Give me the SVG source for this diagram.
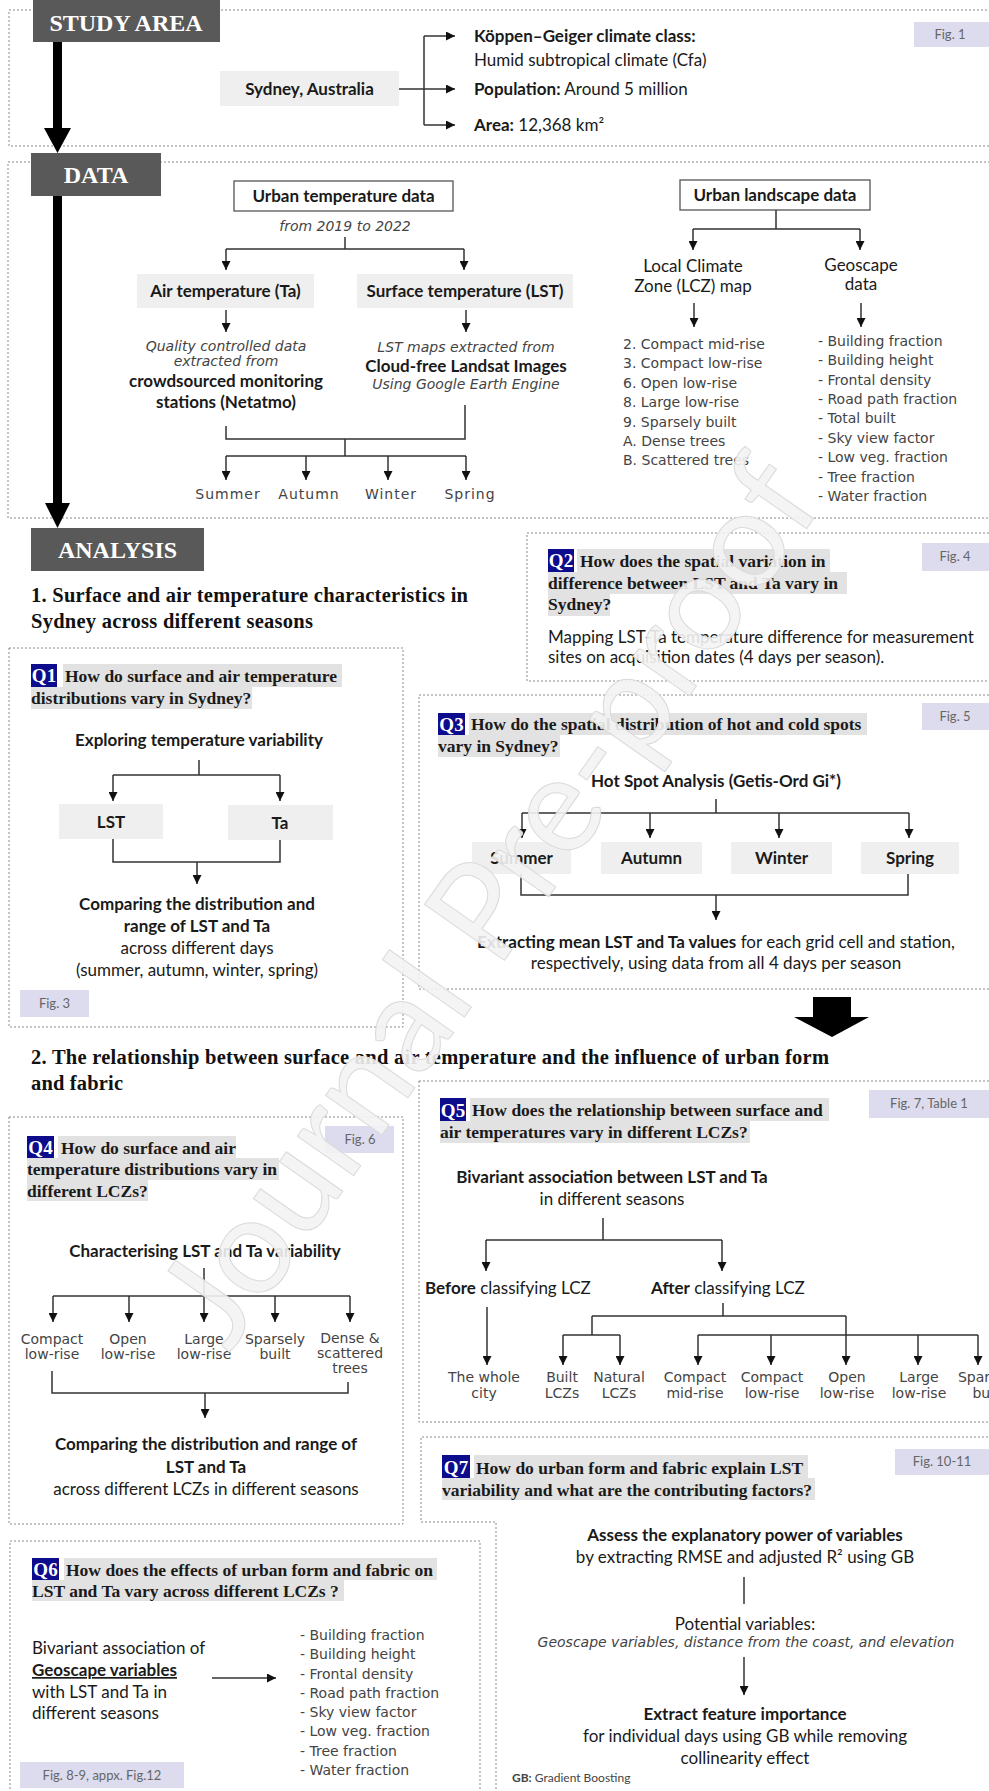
<svg xmlns="http://www.w3.org/2000/svg" width="989" height="1791" viewBox="0 0 989 1791">
<defs>
<marker id="ah" viewBox="0 0 10 10" refX="10" refY="5" markerWidth="10" markerHeight="9" markerUnits="userSpaceOnUse" orient="auto"><path d="M0,0 L10,5 L0,10 z" fill="#111"/></marker>
<style>
.box{fill:none;stroke:#8a8a8a;stroke-width:1;stroke-dasharray:2 2}
.sec{fill:#595959}
.sect{font-family:"Liberation Serif",serif;font-weight:bold;font-size:24px;fill:#fff;text-anchor:middle}
.h{font-family:"Liberation Serif",serif;font-weight:bold;font-size:20.5px;fill:#111}
.q{font-family:"Liberation Serif",serif;font-weight:bold;font-size:17.5px;fill:#1a1a1a}
.qb{fill:#0c0c8c}
.qt{font-family:"Liberation Serif",serif;font-weight:bold;font-size:19px;fill:#fff;text-anchor:middle}
.hl{fill:#e2e2e2}
.grey{fill:#efefef}
.ob{fill:#fff;stroke:#555;stroke-width:1.3}
.b{font-family:Lato,"Open Sans",sans-serif;font-weight:bold;font-size:17px;fill:#1a1a1a}
.r{font-family:Lato,"Open Sans",sans-serif;font-size:17px;fill:#1a1a1a}
.c{text-anchor:middle}
.hw{font-family:"DejaVu Sans",sans-serif;font-size:14px;fill:#444}
.hwi{font-family:"DejaVu Sans",sans-serif;font-size:14px;font-style:italic;fill:#444}
.fb{fill:#dcdcee}
.ft{font-family:Lato,"Open Sans",sans-serif;font-size:13px;fill:#666;text-anchor:middle}
.small{font-size:12px;fill:#444}
.ln{fill:none;stroke:#333;stroke-width:1.5}
.ar{fill:none;stroke:#333;stroke-width:1.5;marker-end:url(#ah)}
.big{fill:#000}
.wm{font-family:Lato,"Open Sans",sans-serif;font-size:136px;fill:#f3f3f3;fill-opacity:0.9;stroke:#dadada;stroke-width:1;text-anchor:middle}
</style>
</defs>
<rect width="989" height="1791" fill="#fff"/>

<!-- STUDY AREA -->
<g id="study-area">
<rect class="box" x="9" y="10" width="990" height="136"/>
<rect class="sec" x="33" y="0" width="187" height="42"/>
<text class="sect" x="126" y="31">STUDY AREA</text>
<rect class="fb" x="914" y="22" width="80" height="25"/>
<text class="ft" x="950" y="39">Fig. 1</text>
</g>
<g id="sydney">
<rect class="grey" x="220" y="71" width="179" height="35"/>
<text class="b c" x="309.5" y="95">Sydney, Australia</text>
</g>
<g id="koppen">
<text class="b" x="474" y="42">Köppen–Geiger climate class:</text>
<text class="r" x="474" y="66">Humid subtropical climate (Cfa)</text>
</g>
<g id="population"><text class="r" x="474" y="95"><tspan font-weight="bold">Population:</tspan> Around 5 million</text></g>
<g id="area"><text class="r" x="474" y="131"><tspan font-weight="bold">Area:</tspan> 12,368 km²</text></g>

<!-- DATA -->
<g id="data">
<rect class="box" x="8" y="162" width="990" height="356"/>
<rect class="sec" x="31" y="153" width="130" height="43"/>
<text class="sect" x="96" y="183">DATA</text>
</g>
<g id="urban-temp">
<rect class="ob" x="234" y="181" width="219" height="30"/>
<text class="b c" x="343.5" y="202">Urban temperature data</text>
<text class="hwi c" x="345" y="231">from 2019 to 2022</text>
</g>
<g id="air-temp">
<rect class="grey" x="137" y="274" width="177" height="34"/>
<text class="b c" x="225.5" y="297">Air temperature (Ta)</text>
<text class="hwi c" x="226" y="351">Quality controlled data</text>
<text class="hwi c" x="226" y="366">extracted from</text>
<text class="b c" x="226" y="387">crowdsourced monitoring</text>
<text class="b c" x="226" y="408">stations (Netatmo)</text>
</g>
<g id="surface-temp">
<rect class="grey" x="357" y="274" width="216" height="34"/>
<text class="b c" x="465" y="297">Surface temperature (LST)</text>
<text class="hwi c" x="466" y="352">LST maps extracted from</text>
<text class="b c" x="466" y="372">Cloud-free Landsat Images</text>
<text class="hwi c" x="466" y="389">Using Google Earth Engine</text>
</g>
<g id="data-seasons" class="hw c" letter-spacing="1">
<text x="228" y="499">Summer</text>
<text x="309" y="499">Autumn</text>
<text x="391" y="499">Winter</text>
<text x="470" y="499">Spring</text>
</g>
<g id="landscape">
<rect class="ob" x="680" y="180" width="190" height="30"/>
<text class="b c" x="775" y="201">Urban landscape data</text>
<text class="r c" x="693" y="272">Local Climate</text>
<text class="r c" x="693" y="292">Zone (LCZ) map</text>
<text class="r c" x="861" y="271">Geoscape</text>
<text class="r c" x="861" y="290">data</text>
</g>
<g id="lcz-list" class="hw">
<text x="623" y="349">2. Compact mid-rise</text>
<text x="623" y="368">3. Compact low-rise</text>
<text x="623" y="388">6. Open low-rise</text>
<text x="623" y="407">8. Large low-rise</text>
<text x="623" y="427">9. Sparsely built</text>
<text x="623" y="446">A. Dense trees</text>
<text x="623" y="465">B. Scattered trees</text>
</g>
<g id="geo-list" class="hw">
<text x="818" y="346">- Building fraction</text>
<text x="818" y="365">- Building height</text>
<text x="818" y="385">- Frontal density</text>
<text x="818" y="404">- Road path fraction</text>
<text x="818" y="423">- Total built</text>
<text x="818" y="443">- Sky view factor</text>
<text x="818" y="462">- Low veg. fraction</text>
<text x="818" y="482">- Tree fraction</text>
<text x="818" y="501">- Water fraction</text>
</g>

<!-- ANALYSIS -->
<g id="analysis">
<rect class="sec" x="31" y="528" width="173" height="43"/>
<text class="sect" x="117.5" y="558">ANALYSIS</text>
<text class="h" x="31" y="602" textLength="437" lengthAdjust="spacing">1. Surface and air temperature characteristics in</text>
<text class="h" x="31" y="628" textLength="282" lengthAdjust="spacing">Sydney across different seasons</text>
<text class="h" x="31" y="1064" textLength="798" lengthAdjust="spacing">2. The relationship between surface and air temperature and the influence of urban form</text>
<text class="h" x="31" y="1090" textLength="92" lengthAdjust="spacing">and fabric</text>
</g>

<!-- Q1 -->
<g id="q1">
<rect class="box" x="9" y="648" width="394" height="379"/>
<rect class="qb" x="31" y="664" width="26" height="23"/>
<text class="qt" x="44" y="682">Q1</text>
<rect class="hl" x="63" y="664" width="279" height="23"/>
<text class="q" x="65" y="682">How do surface and air temperature</text>
<rect class="hl" x="31" y="687" width="221" height="22"/>
<text class="q" x="31" y="704">distributions vary in Sydney?</text>
<text class="b c" x="199" y="746">Exploring temperature variability</text>
<rect class="grey" x="59" y="804" width="104" height="35"/>
<text class="b c" x="111" y="828">LST</text>
<rect class="grey" x="228" y="805" width="105" height="35"/>
<text class="b c" x="280" y="829">Ta</text>
<text class="b c" x="197" y="910">Comparing the distribution and</text>
<text class="b c" x="197" y="932">range of LST and Ta</text>
<text class="r c" x="197" y="954">across different days</text>
<text class="r c" x="197" y="976">(summer, autumn, winter, spring)</text>
<rect class="fb" x="20" y="990" width="69" height="27"/>
<text class="ft" x="54.5" y="1008">Fig. 3</text>
</g>

<!-- Q2 -->
<g id="q2">
<rect class="box" x="527" y="533" width="470" height="148"/>
<rect class="qb" x="548" y="549" width="26" height="23"/>
<text class="qt" x="561" y="567">Q2</text>
<rect class="hl" x="577" y="549" width="253" height="23"/>
<text class="q" x="580" y="567">How does the spatial variation in</text>
<rect class="hl" x="548" y="572" width="299" height="22"/>
<text class="q" x="548" y="589">difference between LST and Ta vary in</text>
<rect class="hl" x="548" y="594" width="62" height="22"/>
<text class="q" x="548" y="610">Sydney?</text>
<text class="r" x="548" y="643">Mapping LST-Ta temperature difference for measurement</text>
<text class="r" x="548" y="663">sites on acquisition dates (4 days per season).</text>
<rect class="fb" x="922" y="543" width="72" height="28"/>
<text class="ft" x="955" y="561">Fig. 4</text>
</g>

<!-- Q3 -->
<g id="q3">
<rect class="box" x="419" y="695" width="580" height="294"/>
<rect class="qb" x="438" y="713" width="27" height="22"/>
<text class="qt" x="451.5" y="731">Q3</text>
<rect class="hl" x="469" y="713" width="398" height="22"/>
<text class="q" x="471" y="730">How do the spatial distribution of hot and cold spots</text>
<rect class="hl" x="438" y="735" width="122" height="22"/>
<text class="q" x="438" y="752">vary in Sydney?</text>
<rect class="fb" x="922" y="703" width="72" height="27"/>
<text class="ft" x="955" y="721">Fig. 5</text>
<text class="b c" x="716" y="787">Hot Spot Analysis (Getis-Ord Gi*)</text>
<rect class="grey" x="472" y="842" width="99" height="32"/>
<text class="b c" x="521.5" y="864">Summer</text>
<rect class="grey" x="601" y="842" width="101" height="32"/>
<text class="b c" x="651.5" y="864">Autumn</text>
<rect class="grey" x="731" y="842" width="101" height="32"/>
<text class="b c" x="781.5" y="864">Winter</text>
<rect class="grey" x="861" y="842" width="98" height="32"/>
<text class="b c" x="910" y="864">Spring</text>
<text class="r c" x="716" y="948"><tspan font-weight="bold">Extracting mean LST and Ta values</tspan> for each grid cell and station,</text>
<text class="r c" x="716" y="969">respectively, using data from all 4 days per season</text>
</g>

<!-- Q4 -->
<g id="q4">
<rect class="box" x="9" y="1117" width="394" height="407"/>
<rect class="qb" x="27" y="1136" width="27" height="22"/>
<text class="qt" x="40.5" y="1154">Q4</text>
<rect class="hl" x="58" y="1136" width="178" height="22"/>
<text class="q" x="61" y="1154">How do surface and air</text>
<rect class="hl" x="27" y="1158" width="252" height="22"/>
<text class="q" x="27" y="1175">temperature distributions vary in</text>
<rect class="hl" x="27" y="1180" width="121" height="21"/>
<text class="q" x="27" y="1197">different LCZs?</text>
<rect class="fb" x="325" y="1126" width="69" height="27"/>
<text class="ft" x="360" y="1144">Fig. 6</text>
<text class="b c" x="205" y="1257">Characterising LST and Ta variability</text>
<g class="hw c">
<text x="52" y="1344">Compact</text><text x="52" y="1359">low-rise</text>
<text x="128" y="1344">Open</text><text x="128" y="1359">low-rise</text>
<text x="204" y="1344">Large</text><text x="204" y="1359">low-rise</text>
<text x="275" y="1344">Sparsely</text><text x="275" y="1359">built</text>
<text x="350" y="1343">Dense &amp;</text><text x="350" y="1358">scattered</text><text x="350" y="1373">trees</text>
</g>
<text class="b c" x="206" y="1450">Comparing the distribution and range of</text>
<text class="b c" x="206" y="1473">LST and Ta</text>
<text class="r c" x="206" y="1495">across different LCZs in different seasons</text>
</g>

<!-- Q5 -->
<g id="q5">
<rect class="box" x="419" y="1081" width="580" height="341"/>
<rect class="qb" x="440" y="1098" width="26" height="24"/>
<text class="qt" x="453" y="1117">Q5</text>
<rect class="hl" x="470" y="1098" width="359" height="23"/>
<text class="q" x="472" y="1116">How does the relationship between surface and</text>
<rect class="hl" x="440" y="1121" width="310" height="22"/>
<text class="q" x="440" y="1138">air temperatures vary in different LCZs?</text>
<rect class="fb" x="869" y="1090" width="125" height="28"/>
<text class="ft" x="929" y="1108">Fig. 7, Table 1</text>
<text class="b c" x="612" y="1183">Bivariant association between LST and Ta</text>
<text class="r c" x="612" y="1205">in different seasons</text>
<text class="r" x="425" y="1294"><tspan font-weight="bold">Before</tspan> classifying LCZ</text>
<text class="r" x="651" y="1294"><tspan font-weight="bold">After</tspan> classifying LCZ</text>
<g class="hw c">
<text x="484" y="1382">The whole</text><text x="484" y="1398">city</text>
<text x="562" y="1382">Built</text><text x="562" y="1398">LCZs</text>
<text x="619" y="1382">Natural</text><text x="619" y="1398">LCZs</text>
<text x="695" y="1382">Compact</text><text x="695" y="1398">mid-rise</text>
<text x="772" y="1382">Compact</text><text x="772" y="1398">low-rise</text>
<text x="847" y="1382">Open</text><text x="847" y="1398">low-rise</text>
<text x="919" y="1382">Large</text><text x="919" y="1398">low-rise</text>
<text x="988" y="1382">Sparsely</text><text x="988" y="1398">built</text>
</g>
</g>

<!-- Q6 -->
<g id="q6">
<rect class="box" x="10" y="1541" width="470" height="270"/>
<rect class="qb" x="32" y="1558" width="27" height="22"/>
<text class="qt" x="45.5" y="1576">Q6</text>
<rect class="hl" x="64" y="1558" width="373" height="22"/>
<text class="q" x="66" y="1576">How does the effects of urban form and fabric on</text>
<rect class="hl" x="32" y="1580" width="312" height="21"/>
<text class="q" x="32" y="1597">LST and Ta vary across different LCZs ?</text>
<text class="r" x="32" y="1654">Bivariant association of</text>
<text class="b" x="32" y="1676" text-decoration="underline">Geoscape variables</text>
<text class="r" x="32" y="1698">with LST and Ta in</text>
<text class="r" x="32" y="1719">different seasons</text>
<g class="hw">
<text x="300" y="1640">- Building fraction</text>
<text x="300" y="1659">- Building height</text>
<text x="300" y="1679">- Frontal density</text>
<text x="300" y="1698">- Road path fraction</text>
<text x="300" y="1717">- Sky view factor</text>
<text x="300" y="1736">- Low veg. fraction</text>
<text x="300" y="1756">- Tree fraction</text>
<text x="300" y="1775">- Water fraction</text>
</g>
<rect class="fb" x="20" y="1762" width="164" height="26"/>
<text class="ft" x="102" y="1780">Fig. 8-9, appx. Fig.12</text>
</g>

<!-- Q7 -->
<g id="q7">
<path class="box" d="M1000,1437 H421 V1522 H496 V1800"/>
<rect class="qb" x="442" y="1455" width="28" height="23"/>
<text class="qt" x="456" y="1474">Q7</text>
<rect class="hl" x="474" y="1455" width="334" height="23"/>
<text class="q" x="476" y="1474">How do urban form and fabric explain LST</text>
<rect class="hl" x="442" y="1478" width="373" height="22"/>
<text class="q" x="442" y="1496">variability and what are the contributing factors?</text>
<rect class="fb" x="895" y="1449" width="99" height="26"/>
<text class="ft" x="942" y="1466">Fig. 10-11</text>
<text class="b c" x="745" y="1541">Assess the explanatory power of variables</text>
<text class="r c" x="745" y="1563">by extracting RMSE and adjusted R² using GB</text>
<text class="r c" x="745" y="1630">Potential variables:</text>
<text class="hwi c" x="746" y="1647">Geoscape variables, distance from the coast, and elevation</text>
<text class="b c" x="745" y="1720">Extract feature importance</text>
<text class="r c" x="745" y="1742">for individual days using GB while removing</text>
<text class="r c" x="745" y="1764">collinearity effect</text>
<text class="r small" x="512" y="1782"><tspan font-weight="bold">GB:</tspan> Gradient Boosting</text>
</g>

<!-- CONNECTORS -->
<g id="connectors">
<polygon class="big" points="53,42 62,42 62,128 71,128 57.5,153 44,128 53,128"/>
<polygon class="big" points="53,196 62,196 62,503 70,503 57.5,528 45,503 53,503"/>
<polygon class="big" points="813,997 851,997 851,1017 869,1017 832,1037 794,1017 813,1017"/>
<path class="ln" d="M399,89 H424 M424,36 V125"/>
<line class="ar" x1="424" y1="36" x2="455" y2="36"/>
<line class="ar" x1="424" y1="89" x2="455" y2="89"/>
<line class="ar" x1="424" y1="125" x2="455" y2="125"/>
<path class="ln" d="M345,237 V249 M226,249 H464"/>
<line class="ar" x1="226" y1="249" x2="226" y2="270"/>
<line class="ar" x1="464" y1="249" x2="464" y2="270"/>
<line class="ar" x1="226" y1="310" x2="226" y2="332"/>
<line class="ar" x1="466" y1="310" x2="466" y2="332"/>
<path class="ln" d="M226,426 V439 H465 V405 M345,439 V456 M226,456 H466"/>
<line class="ar" x1="226" y1="456" x2="226" y2="480"/>
<line class="ar" x1="306" y1="456" x2="306" y2="480"/>
<line class="ar" x1="388" y1="456" x2="388" y2="480"/>
<line class="ar" x1="466" y1="456" x2="466" y2="480"/>
<path class="ln" d="M776,210 V229 M693,229 H860"/>
<line class="ar" x1="693" y1="229" x2="693" y2="250"/>
<line class="ar" x1="860" y1="229" x2="860" y2="250"/>
<line class="ar" x1="694" y1="303" x2="694" y2="327"/>
<line class="ar" x1="861" y1="303" x2="861" y2="327"/>
<path class="ln" d="M199,760 V775 M113,775 H280"/>
<line class="ar" x1="113" y1="775" x2="113" y2="801"/>
<line class="ar" x1="280" y1="775" x2="280" y2="801"/>
<path class="ln" d="M113,839 V862 H280 V840"/>
<line class="ar" x1="197" y1="862" x2="197" y2="884"/>
<path class="ln" d="M716,799 V813 M522,813 H909"/>
<line class="ar" x1="522" y1="813" x2="522" y2="838"/>
<line class="ar" x1="650" y1="813" x2="650" y2="838"/>
<line class="ar" x1="779" y1="813" x2="779" y2="838"/>
<line class="ar" x1="909" y1="813" x2="909" y2="838"/>
<path class="ln" d="M521,874 V895 H908 V874"/>
<line class="ar" x1="716" y1="895" x2="716" y2="920"/>
<path class="ln" d="M53,1296 H350"/>
<line class="ar" x1="204" y1="1268" x2="204" y2="1322"/>
<line class="ar" x1="53" y1="1296" x2="53" y2="1322"/>
<line class="ar" x1="129" y1="1296" x2="129" y2="1322"/>
<line class="ar" x1="275" y1="1296" x2="275" y2="1322"/>
<line class="ar" x1="350" y1="1296" x2="350" y2="1322"/>
<path class="ln" d="M52,1371 V1393 H348 V1382"/>
<line class="ar" x1="205" y1="1393" x2="205" y2="1418"/>
<path class="ln" d="M603,1218 V1240 M486,1240 H722"/>
<line class="ar" x1="486" y1="1240" x2="486" y2="1271"/>
<line class="ar" x1="722" y1="1240" x2="722" y2="1271"/>
<line class="ar" x1="487" y1="1307" x2="487" y2="1365"/>
<path class="ln" d="M723,1303 V1316 M592,1316 H846 M592,1316 V1335 M563,1335 H620 M698,1335 H978"/>
<line class="ar" x1="563" y1="1335" x2="563" y2="1365"/>
<line class="ar" x1="620" y1="1335" x2="620" y2="1365"/>
<line class="ar" x1="698" y1="1335" x2="698" y2="1365"/>
<line class="ar" x1="771" y1="1335" x2="771" y2="1365"/>
<line class="ar" x1="846" y1="1316" x2="846" y2="1365"/>
<line class="ar" x1="918" y1="1335" x2="918" y2="1365"/>
<line class="ar" x1="978" y1="1335" x2="978" y2="1365"/>
<line class="ar" x1="212" y1="1678" x2="276" y2="1678"/>
<path class="ln" d="M744,1577 V1604"/>
<line class="ar" x1="744" y1="1657" x2="744" y2="1695"/>
</g>

<g id="watermark">
<text class="wm" x="0" y="48" transform="translate(488,900) rotate(-55)">Journal Pre-proof</text>
</g>
</svg>
